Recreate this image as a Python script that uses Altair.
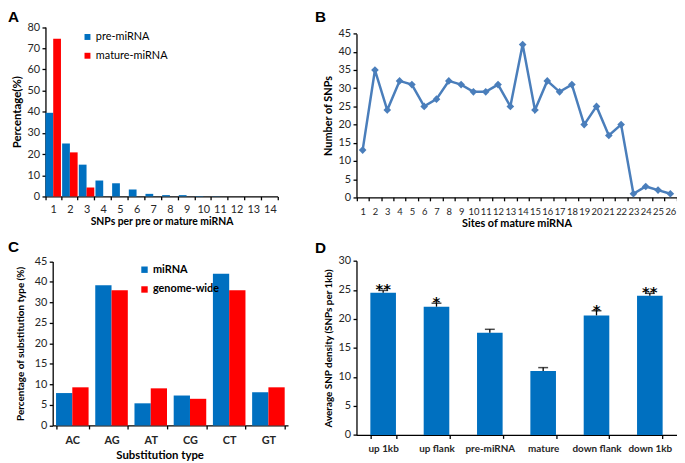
import altair as alt
import pandas as pd

# ---------------- data ----------------
snp_counts = [str(i) for i in range(1, 15)]
pre_pct = [39.5, 25.0, 15.0, 7.5, 6.2, 3.2, 1.2, 0.6, 0.6, 0.2, 0.1, 0.0, 0.0, 0.0]
mature_pct = [74.5, 20.8, 4.2, 0, 0, 0, 0, 0, 0, 0, 0, 0, 0, 0]
series_a = ["pre-miRNA", "mature-miRNA"]

sites = [str(i) for i in range(1, 27)]
site_snps = [13, 35, 24, 32, 31, 25, 27, 32, 31, 29, 29, 31, 25, 42, 24, 32, 29, 31,
             20, 25, 17, 20, 1, 3, 2, 1]

subst_types = ["AC", "AG", "AT", "CG", "CT", "GT"]
mirna_pct = [7.9, 34.2, 5.4, 7.3, 37.0, 8.1]
genome_pct = [9.3, 33.0, 9.05, 6.5, 33.0, 9.3]
series_c = ["miRNA", "genome-wide"]
c_tick_labels = ["0", "5", "10", "15", "20", "25", "30", "40", "45"]

regions = ["up 1kb", "up flank", "pre-miRNA", "mature", "down flank", "down 1kb"]
density = [24.5, 22.1, 17.6, 11.0, 20.6, 24.0]
density_err = [0.4, 0.6, 0.6, 0.6, 0.8, 0.4]
stars = ["**", "*", "", "", "*", "**"]

# ---------------- layout helpers ----------------
FONT = "Lato"
W, H = 677, 455
BLUE, RED, LINE = "#0070C0", "#FF0000", "#4A7EBB"
LABEL_COLOR = "#262626"


def cx(r):
    return (r - 1.0) * 677 / 684


def cy(r):
    return (r - 1.5) * 455 / 460.5


def xaxis(ybot, title, bold=False, label_size=11, title_size=11, label_pad=4, title_pad=3, **kw):
    return alt.Axis(orient="bottom", offset=ybot - H, title=title, labelAngle=0,
                    tickBand="extent", tickSize=3.5, labelPadding=label_pad,
                    labelFont=FONT, labelFontSize=label_size,
                    labelFontWeight="bold" if bold else "normal", labelColor=LABEL_COLOR,
                    titleFont=FONT, titleFontSize=title_size, titleFontWeight="bold",
                    titleColor="black", titlePadding=title_pad,
                    domainColor="black", tickColor="black", domainWidth=1.3, tickWidth=1.3,
                    grid=False, labelOverlap=False, labelBound=False, **kw)


def yaxis(xleft, title, values, title_size=11, title_pad=4, label_size=11, **kw):
    return alt.Axis(orient="left", offset=-xleft, title=title, values=values,
                    tickSize=3.5, labelPadding=2.5,
                    labelFont=FONT, labelFontSize=label_size, labelColor=LABEL_COLOR,
                    titleFont=FONT, titleFontSize=title_size, titleFontWeight="bold",
                    titleColor="black", titlePadding=title_pad,
                    domainColor="black", tickColor="black", domainWidth=1.3, tickWidth=1.3,
                    grid=False, labelOverlap=False, **kw)


def legend(lx, ly, bold=False, row_pad=7, size=36):
    return alt.Legend(orient="none", legendX=lx, legendY=ly, title=None,
                      symbolType="square", symbolSize=size, symbolStrokeWidth=0,
                      labelFont=FONT, labelFontSize=11,
                      labelFontWeight="bold" if bold else "normal",
                      labelColor="black", labelOffset=3, rowPadding=row_pad, padding=0)


# ---------------- panel A ----------------
A_x0, A_x1, A_yb, A_yt = cx(39.3), cx(276.7), cy(191.7), cy(18.3)
dfA = pd.DataFrame({
    "n": snp_counts * 2,
    "sa": [series_a[0]] * len(snp_counts) + [series_a[1]] * len(snp_counts),
    "pct": pre_pct + mature_pct,
})
panelA = alt.Chart(dfA).mark_bar().encode(
    x=alt.X("n:N", sort=snp_counts,
            scale=alt.Scale(range=[A_x0, A_x1], paddingInner=0.07, paddingOuter=0),
            axis=xaxis(A_yb, "SNPs per pre or mature miRNA", title_size=10.5, title_pad=2)),
    xOffset=alt.XOffset("sa:N", sort=series_a),
    y=alt.Y("pct:Q", scale=alt.Scale(domain=[0, 80], range=[A_yb, A_yt], nice=False),
            axis=yaxis(A_x0, "Percentage(%)", list(range(0, 81, 10)), title_size=11.5)),
    color=alt.Color("sa:N", sort=series_a,
                    scale=alt.Scale(domain=series_a, range=[BLUE, RED]),
                    legend=legend(cx(76.7), cy(35) - 12)),
)

# ---------------- panel B ----------------
B_x0, B_x1, B_yb, B_yt = cx(357.3), cx(685) - 0.5, cy(192.7), cy(25)
dfB = pd.DataFrame({"site": sites, "snps": site_snps})
baseB = alt.Chart(dfB).encode(
    x=alt.X("site:N", sort=sites,
            scale=alt.Scale(type="band", range=[B_x0, B_x1], paddingInner=0, paddingOuter=0),
            axis=xaxis(B_yb, "Sites of mature miRNA", label_size=9.5, label_pad=5.5, title_pad=2)),
    y=alt.Y("snps:Q", scale=alt.Scale(domain=[0, 45], range=[B_yb, B_yt], nice=False),
            axis=yaxis(B_x0, "Number of SNPs", list(range(0, 46, 5)), title_pad=5)),
)
panelB = alt.layer(
    baseB.mark_line(color=LINE, strokeWidth=2.5),
    baseB.mark_point(shape="diamond", filled=True, size=60, color=LINE, opacity=1),
)

# ---------------- panel C ----------------
C_x0, C_x1, C_yb, C_yt = cx(46.7), cx(287.3), cy(426.3), cy(258.3)
dfC = pd.DataFrame({
    "st": subst_types * 2,
    "sc": [series_c[0]] * len(subst_types) + [series_c[1]] * len(subst_types),
    "pct": mirna_pct + genome_pct,
})
c_label_expr = "[" + ",".join("'%s'" % s for s in c_tick_labels) + "][round(datum.value / 5)]"
panelC = alt.Chart(dfC).mark_bar().encode(
    x=alt.X("st:N", sort=subst_types,
            scale=alt.Scale(range=[C_x0, C_x1], paddingInner=0.17, paddingOuter=0.085),
            axis=xaxis(C_yb, "Substitution type", bold=True, title_size=11.5,
                       label_pad=5.5, title_pad=4, titleX=cx(156))),
    xOffset=alt.XOffset("sc:N", sort=series_c),
    y=alt.Y("pct:Q", scale=alt.Scale(domain=[0, 40], range=[C_yb, C_yt], nice=False),
            axis=yaxis(C_x0, "Percentage of  substitution type (%)", list(range(0, 41, 5)),
                       title_size=10, title_pad=9, labelExpr=c_label_expr)),
    color=alt.Color("sc:N", sort=series_c,
                    scale=alt.Scale(domain=series_c, range=[BLUE, RED]),
                    legend=legend(cx(135), cy(268.3) - 7, bold=True, row_pad=8, size=42)),
)

# ---------------- panel D ----------------
D_x0, D_x1, D_yb, D_yt = cx(357.3), cx(685) - 0.5, cy(436), cy(257.7)
dfD = pd.DataFrame({"region": regions, "density": density, "err": density_err, "star": stars})
dfD["top"] = dfD["density"] + dfD["err"]
yD = alt.Scale(domain=[0, 30], range=[D_yb, D_yt], nice=False)
baseD = alt.Chart(dfD).encode(
    x=alt.X("region:N", sort=regions,
            scale=alt.Scale(range=[D_x0, D_x1], paddingInner=0.52, paddingOuter=0.26),
            axis=xaxis(D_yb, None, bold=True, label_size=10, label_pad=5)),
)
panelD = alt.layer(
    baseD.mark_bar(color=BLUE).encode(
        y=alt.Y("density:Q", scale=yD,
                axis=yaxis(D_x0, "Average SNP density (SNPs per 1kb)", list(range(0, 31, 5)),
                           title_size=10, title_pad=5))),
    baseD.mark_rule(color="black", strokeWidth=1.3).encode(y=alt.Y("density:Q", scale=yD), y2="top:Q"),
    baseD.mark_tick(color="black", thickness=1.5, size=10, orient="horizontal").encode(
        y=alt.Y("top:Q", scale=yD)),
    baseD.mark_text(font="DejaVu Sans", fontWeight="bold", fontSize=15, baseline="alphabetic",
                    dy=4, color="black").encode(y=alt.Y("top:Q", scale=yD), text="star:N"),
)


# ---------------- panel letters ----------------
def letter(t, xr, yr):
    return alt.Chart(pd.DataFrame({"t": [t]})).mark_text(
        font="Liberation Sans", fontWeight="bold", fontSize=15.5, align="left",
        baseline="alphabetic", color="black").encode(
        x=alt.value(cx(xr)), y=alt.value(cy(yr)), text="t:N")


chart = alt.layer(
    panelA, panelB, panelC, panelD,
    letter("A", 1, 12.7), letter("B", 315, 12.7), letter("C", 1, 249), letter("D", 315, 250),
).resolve_scale(
    x="independent", y="independent", color="independent", xOffset="independent"
).resolve_axis(
    x="independent", y="independent"
).resolve_legend(
    color="independent"
).properties(
    width=W, height=H, autosize=alt.AutoSizeParams(type="none"), padding=0,
    background="white",
).configure_view(stroke=None)

chart.save("out.html", embed_options={"renderer": "svg", "actions": False})
